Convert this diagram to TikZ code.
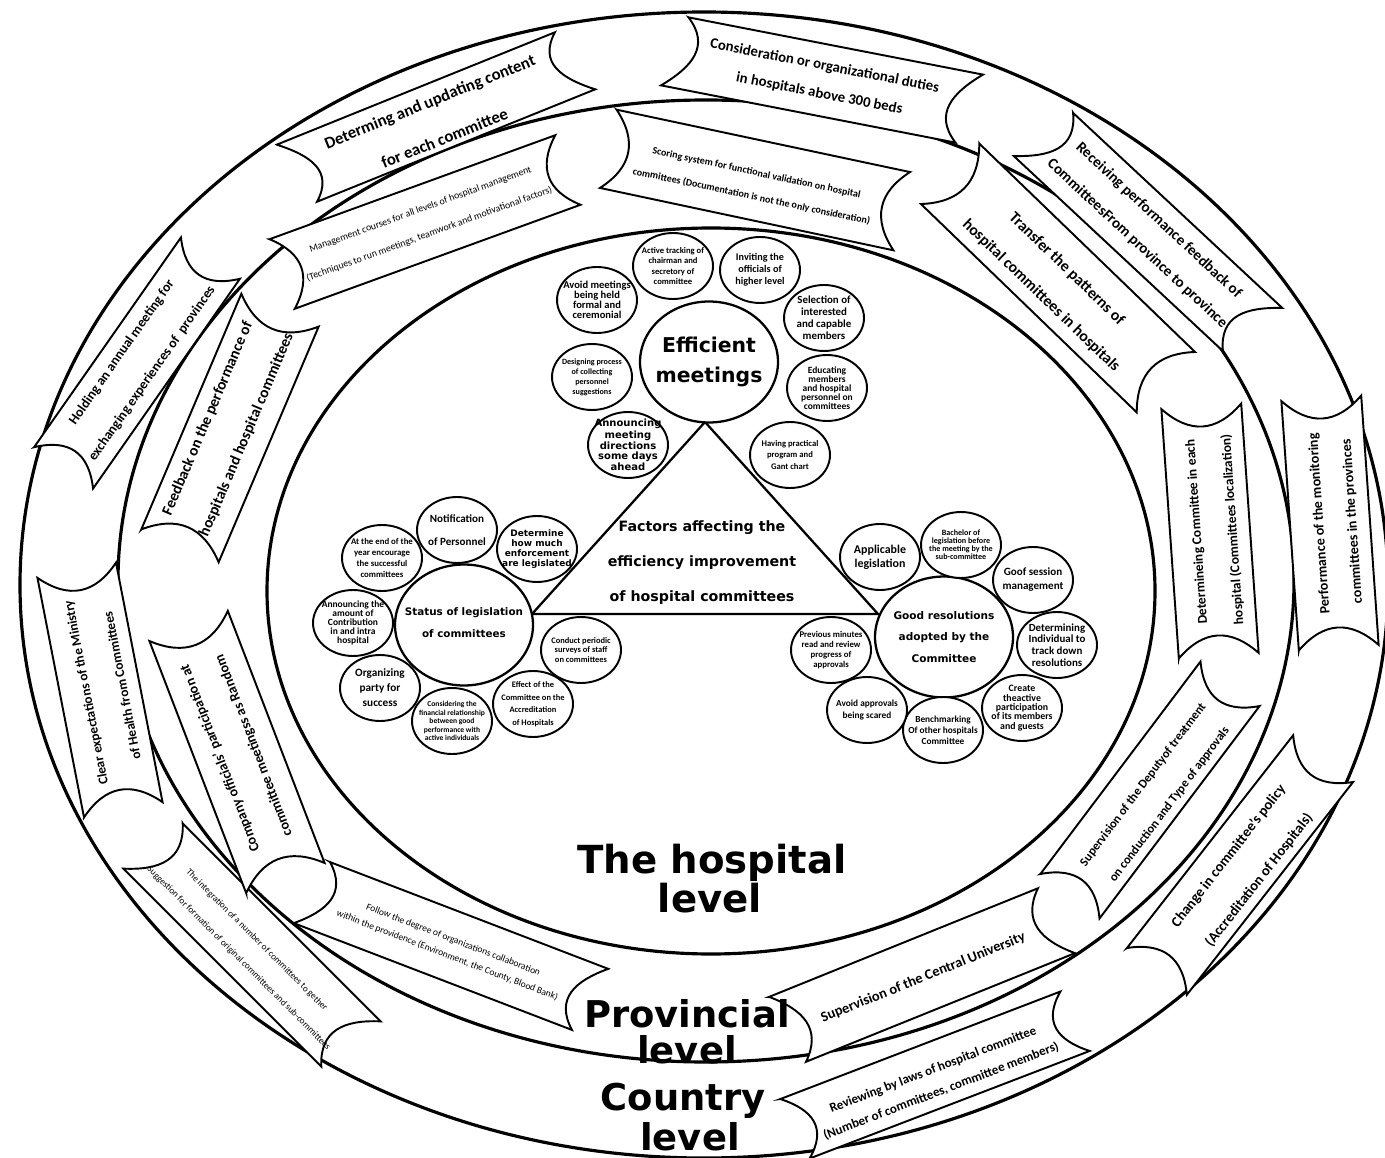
\documentclass[tikz,border=0pt]{standalone}
\usepackage{fontspec}
\setmainfont{Carlito}
\newfontfamily\dvs{DejaVu Sans}
\usetikzlibrary{shapes.geometric}
\newcommand\fz[2]{\fontsize{#1}{#2}\selectfont}
\tikzset{
  ringline/.style={line width=1.8pt},
  ribline/.style={line width=1.1pt, fill=white, line join=miter},
  triline/.style={line width=1.3pt},
  smallc/.style={draw, fill=white, ellipse, line width=1.1pt, minimum width=1.6cm, minimum height=1.32cm, inner sep=0pt},
  bigc/.style={draw, fill=white, ellipse, line width=1.3pt, minimum width=2.76cm, minimum height=2.42cm, inner sep=0pt},
  ctext/.style={align=center, inner sep=0pt},
  biglabel/.style={font=\dvs\bfseries\fz{21pt}{22pt}, anchor=base, inner sep=0pt},
}
% name, {cx,cy}, angle, half-length, half-height, corner shift, text offset, font, text
\newcommand\ribbon[9]{%
  \begin{scope}[shift={(#2)},rotate=#3]
    \draw[ribline] ({-(#4)-(#6)},{-(#5)}) -- ({(#4)-(#6)},{-(#5)})
      .. controls ({(#4)-(#6)-27},{-(#5)/3}) and ({(#4)+(#6)-27},{(#5)/3}) .. ({(#4)+(#6)},{#5})
      -- ({-(#4)+(#6)},{#5})
      .. controls ({-(#4)+(#6)+27},{(#5)/3}) and ({-(#4)-(#6)+27},{-(#5)/3}) .. cycle;
    \node[rotate=#3, align=center, inner sep=0pt, font={\bfseries#8}] (#1) at (0,#7) {#9};
  \end{scope}}
\begin{document}
\begin{tikzpicture}[x=0.02cm,y=-0.02cm]
\useasboundingbox[fill=white] (0,0) rectangle (1385,1158);
% level rings
\draw[ringline] (704,585) ellipse [x radius=684, y radius=573];
\draw[ringline] (706,581) ellipse [x radius=588, y radius=481];
\draw[ringline] (711,591) ellipse [x radius=444, y radius=363];

% outer ring (country level)
\ribbon{r1}{436,117}{22}{150}{34}{8}{3}{\fz{9.5pt}{22.5pt}}{Determing and updating content\\for each committee}
\ribbon{r2}{822,80}{-11}{150}{36}{-7}{0}{\fz{8.4pt}{16pt}}{Consideration or organizational duties\\in hospitals above 300 beds}
\ribbon{r3}{1148,232}{-43}{143}{36}{-7}{0}{\fz{8.6pt}{18pt}}{Receiving performance feedback of\\CommitteesFrom province to province}
\ribbon{r4}{1330,523}{94}{125}{40}{0}{6}{\fz{8pt}{18.8pt}}{Performance of the monitoring\\committees in the provinces}
\ribbon{r5}{1240,865}{52}{135}{38}{0}{5}{\fz{8.3pt}{22pt}}{Change in committee’s policy\\(Accreditation of Hospitals)}
\ribbon{r6}{935,1075}{21}{150}{33}{3}{6}{\fz{7.4pt}{13pt}}{Reviewing by laws of hospital committee\\(Number of committees, committee members)}
\ribbon{r7}{252,945}{-45}{140}{37}{-5}{6}{\mdseries\fz{5.2pt}{14.5pt}}{The integration of a number of committees to gether\\Suggestion for formation of original committees and sub-committees}
\ribbon{r8}{100,690}{101}{122}{40}{0}{4}{\fz{7.6pt}{21pt}}{Clear expectations of the Ministry\\of Health from Committees}
\ribbon{r18}{137,363}{55}{128}{36}{0}{0}{\fz{7.8pt}{21pt}}{Holding an annual meeting for\\exchanging experiences of\ \ provinces}

% middle ring (provincial level)
\ribbon{r9}{425,222}{20}{152}{37}{0}{0}{\mdseries\fz{5.6pt}{14.8pt}}{Management courses for all levels of hospital management\\(Techniques to run meetings, teamwork and motivational factors)}
\ribbon{r10}{755,180}{-12}{150}{40}{0}{5}{\fz{5.7pt}{13.7pt}}{Scoring system for functional validation on hospital\\committees (Documentation is not the only consideration)}
\ribbon{r11}{1058,278}{-44}{150}{42}{0}{6}{\fz{9pt}{21pt}}{Transfer the patterns of\\hospital committees in hospitals}
\ribbon{r12}{1210,531}{94}{125}{40}{0}{5}{\fz{7.7pt}{20.5pt}}{Determineing Committee in each\\hospital (Committees localization)}
\ribbon{r13}{1150,790}{53}{133}{37}{0}{8}{\fz{7.1pt}{18.8pt}}{Supervision of the Deputyof treatment\\on conduction and Type of approvals}
\ribbon{r14}{922,975}{22}{145}{37}{5}{3}{\fz{8.2pt}{10pt}}{Supervision of the Central University}
\ribbon{r15}{451,946}{-21}{149}{35}{-6}{2}{\mdseries\fz{5.4pt}{9.4pt}}{Follow the degree of organizations collaboration\\within the providence (Environment, the County, Blood Bank)}
\ribbon{r16}{237,752}{111}{135}{42}{0}{0}{\fz{8pt}{20.5pt}}{Company officials’ participation at\\committee meetingss as Random}
\ribbon{r17}{230,428}{67}{128}{42}{0}{-3}{\fz{8.8pt}{24pt}}{Feedback on the performance of\\hospitals and hospital committees}

% central triangle
\coordinate (tA) at (705,422);
\coordinate (tB) at (532,614);
\coordinate (tC) at (878,614);
\draw[triline] (tA) -- (tB) -- (tC) -- cycle;
\node[ctext, font=\dvs\bfseries\fz{8.1pt}{19.9pt}] (tri) at (702,563) {Factors affecting the\\efficiency improvement\\of hospital committees};

% Efficient meetings
\node[bigc] (e0) at (709,362) {};
\node[ctext, font=\dvs\bfseries\fz{11.6pt}{17pt}] (e0t) at (e0) {Efficient\\meetings};
\node[smallc] (e1) at (673,266) {};
\node[ctext, font=\bfseries\fz{4.9pt}{5.7pt}] (e1t) at (e1) {Active tracking of\\chairman and\\secretory of\\committee};
\node[smallc] (e2) at (760,270) {};
\node[ctext, font=\bfseries\fz{5.8pt}{6.8pt}] (e2t) at (e2) {Inviting the\\officials of\\higher level};
\node[smallc] (e3) at (597,300) {};
\node[ctext, font=\bfseries\fz{6pt}{5.6pt}] (e3t) at (e3) {Avoid meetings\\being held\\formal and\\ceremonial};
\node[smallc] (e4) at (824,318) {};
\node[ctext, font=\bfseries\fz{6.2pt}{6.8pt}] (e4t) at (e4) {Selection of\\interested\\and capable\\members};
\node[smallc] (e5) at (592,377) {};
\node[ctext, font=\bfseries\fz{4.6pt}{5.7pt}] (e5t) at (e5) {Designing process\\of collecting\\personnel\\suggestions};
\node[smallc] (e6) at (827,388) {};
\node[ctext, font=\bfseries\fz{5.4pt}{5.2pt}] (e6t) at (e6) {Educating\\members\\and hospital\\personnel on\\committees};
\node[smallc] (e7) at (628,445) {};
\node[ctext, font=\dvs\bfseries\fz{5.7pt}{5.4pt}] (e7t) at (e7) {Announcing\\meeting\\directions\\some days\\ahead};
\node[smallc] (e8) at (790,455) {};
\node[ctext, font=\bfseries\fz{4.9pt}{6.8pt}] (e8t) at (e8) {Having practical\\program and\\Gant chart};

% Status of legislation
\node[bigc] (s0) at (464,625) {};
\node[ctext, font=\dvs\bfseries\fz{5.9pt}{12.5pt}] (s0t) at (464,623) {Status of legislation\\of committees};
\node[smallc] (s1) at (457,530) {};
\node[ctext, font=\bfseries\fz{6.3pt}{12.7pt}] (s1t) at (s1) {Notification\\of Personnel};
\node[smallc] (s2) at (537,549) {};
\node[ctext, font=\dvs\bfseries\fz{5.1pt}{5.6pt}] (s2t) at (s2) {Determine\\how much\\enforcement\\are legislated};
\node[smallc] (s3) at (382,558) {};
\node[ctext, font=\bfseries\fz{5pt}{6.4pt}] (s3t) at (s3) {At the end of the\\year encourage\\the successful\\committees};
\node[smallc] (s4) at (353,623) {};
\node[ctext, font=\bfseries\fz{5.4pt}{5.1pt}] (s4t) at (s4) {Announcing the\\amount of\\Contribution\\in and intra\\hospital};
\node[smallc] (s5) at (380,688) {};
\node[ctext, font=\bfseries\fz{6.4pt}{8.5pt}] (s5t) at (s5) {Organizing\\party for\\success};
\node[smallc] (s6) at (452,721) {};
\node[ctext, font=\bfseries\fz{4.3pt}{4.9pt}] (s6t) at (s6) {Considering the\\financial relationship\\between good\\performance with\\active individuals};
\node[smallc] (s7) at (533,704) {};
\node[ctext, font=\bfseries\fz{4.8pt}{7.1pt}] (s7t) at (s7) {Effect of the\\Committee on the\\Accreditation\\of Hospitals};
\node[smallc] (s8) at (581,650) {};
\node[ctext, font=\bfseries\fz{4.8pt}{5.5pt}] (s8t) at (s8) {Conduct periodic\\surveys of staff\\on committees};

% Good resolutions
\node[bigc] (g0) at (944,637) {};
\node[ctext, font=\dvs\bfseries\fz{6pt}{12.2pt}] (g0t) at (g0) {Good resolutions\\adopted by the\\Committee};
\node[smallc] (g1) at (880,557) {};
\node[ctext, font=\bfseries\fz{6.8pt}{7.8pt}] (g1t) at (g1) {Applicable\\legislation};
\node[smallc] (g2) at (961,545) {};
\node[ctext, font=\bfseries\fz{4.6pt}{4.6pt}] (g2t) at (g2) {Bachelor of\\legislation before\\the meeting by the\\sub-committee};
\node[smallc] (g3) at (1033,580) {};
\node[ctext, font=\bfseries\fz{6.3pt}{8pt}] (g3t) at (g3) {Goof session\\management};
\node[smallc] (g4) at (1057,645) {};
\node[ctext, font=\bfseries\fz{6.2pt}{6.6pt}] (g4t) at (g4) {Determining\\Individual to\\track down\\resolutions};
\node[smallc] (g5) at (1022,708) {};
\node[ctext, font=\bfseries\fz{5.6pt}{5.3pt}] (g5t) at (g5) {Create\\theactive\\participation\\of its members\\and guests};
\node[smallc] (g6) at (943,730) {};
\node[ctext, font=\bfseries\fz{5.3pt}{6.3pt}] (g6t) at (g6) {Benchmarking\\Of other hospitals\\Committee};
\node[smallc] (g7) at (867,710) {};
\node[ctext, font=\bfseries\fz{5.3pt}{6.3pt}] (g7t) at (g7) {Avoid approvals\\being scared};
\node[smallc] (g8) at (831,650) {};
\node[ctext, font=\bfseries\fz{5pt}{5.7pt}] (g8t) at (g8) {Previous minutes\\read and review\\progress of\\approvals};

% level labels
\node[biglabel, font=\dvs\bfseries\fz{22pt}{22pt}] (L1a) at (712,873) {The hospital};
\node[biglabel, font=\dvs\bfseries\fz{22pt}{22pt}] (L1b) at (710,912) {level};
\node[biglabel] (L2a) at (687,1027) {Provincial};
\node[biglabel] (L2b) at (687,1063) {level};
\node[biglabel] (L3a) at (683,1110) {Country};
\node[biglabel] (L3b) at (690,1150) {level};
\end{tikzpicture}
\end{document}
